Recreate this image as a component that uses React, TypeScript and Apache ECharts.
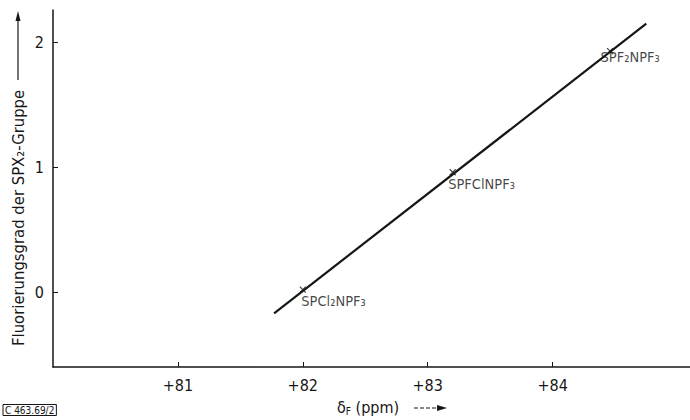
import React, { useEffect, useRef } from "react";
import * as echarts from "echarts";

const xTicks = [81, 82, 83, 84];
const yTicks = [0, 1, 2];
const compounds = ["SPCl₂NPF₃", "SPFClNPF₃", "SPF₂NPF₃"];
const shiftValues = [82.0, 83.2, 84.46];
const fluorination = [0.02, 0.96, 1.93];
const fitLine = [
  [81.77, -0.17],
  [84.75, 2.15],
];

const FONT = "'Liberation Sans Narrow', 'DejaVu Sans Condensed', 'Roboto Condensed', 'Liberation Sans', sans-serif";
const INK = "#161616";

const labelOffsets: number[][] = [
  [4, 9],
  [1, 10],
  [-4, 4],
];

export default function App() {
  const ref = useRef<HTMLDivElement>(null);
  useEffect(() => {
    if (!ref.current) return;
    const chart = echarts.init(ref.current, null, { renderer: "svg" });
    const crossPath = "path://M0,0L10,10M10,0L0,10";
    chart.setOption({
      animation: false,
      backgroundColor: "#ffffff",
      grid: { left: 53, right: 0, top: 10, bottom: 53 },
      xAxis: {
        type: "value",
        min: 80,
        max: 85.1,
        interval: 1,
        axisLine: { onZero: false, lineStyle: { color: INK, width: 1.5 } },
        axisTick: { inside: true, length: 5, customValues: xTicks, lineStyle: { color: INK } },
        axisLabel: {
          customValues: xTicks,
          formatter: (v: number) => "+" + v,
          margin: 10,
          fontSize: 16,
          fontFamily: FONT,
          color: INK,
        },
        splitLine: { show: false },
      },
      yAxis: {
        type: "value",
        min: -0.6,
        max: 2.26,
        axisLine: { show: true, onZero: false, lineStyle: { color: INK, width: 1.5 } },
        axisTick: { show: true, inside: true, length: 5, customValues: yTicks, lineStyle: { color: INK } },
        axisLabel: {
          customValues: yTicks,
          margin: 9,
          fontSize: 16,
          fontFamily: FONT,
          color: INK,
        },
        splitLine: { show: false },
      },
      series: [
        {
          type: "line",
          data: fitLine,
          symbol: "none",
          lineStyle: { color: INK, width: 2.2 },
          silent: true,
        },
        {
          type: "scatter",
          symbol: crossPath,
          symbolSize: 6,
          itemStyle: { color: "none", borderColor: INK, borderWidth: 1.2 },
          data: compounds.map((name, i) => ({
            name,
            value: [shiftValues[i], fluorination[i]],
            label: { position: labelOffsets[i] },
          })),
          label: {
            show: true,
            formatter: (p: any) => p.name,
            fontSize: 14.5,
            fontFamily: FONT,
            color: INK,
            align: "left",
            verticalAlign: "top",
          },
        },
      ],
      graphic: [
        {
          type: "text",
          x: 18,
          y: 346,
          rotation: Math.PI / 2,
          style: {
            text: "Fluorierungsgrad der SPX₂-Gruppe",
            fontSize: 16.5,
            fontFamily: FONT,
            fill: INK,
            align: "left",
            verticalAlign: "middle",
          },
        },
        {
          type: "line",
          shape: { x1: 18, y1: 80, x2: 18, y2: 18 },
          style: { stroke: INK, lineWidth: 1.2 },
        },
        {
          type: "polygon",
          shape: { points: [[18, 11], [15.5, 21], [20.5, 21]] },
          style: { fill: INK },
        },
        {
          type: "text",
          x: 337,
          y: 407,
          style: {
            rich: {
              d: { fontSize: 16, fontFamily: FONT, fill: INK, lineHeight: 18, verticalAlign: "middle" },
              s: { fontSize: 10, fontFamily: FONT, fill: INK, lineHeight: 18, verticalAlign: "bottom" },
            },
            text: "{d|δ}{s|F}{d| (ppm)}",
            verticalAlign: "middle",
          },
        },
        {
          type: "line",
          shape: { x1: 414, y1: 408, x2: 440, y2: 408 },
          style: { stroke: INK, lineWidth: 1.2, lineDash: [4, 2] },
        },
        {
          type: "polygon",
          shape: { points: [[447, 408], [437, 405], [437, 411]] },
          style: { fill: INK },
        },
        {
          type: "text",
          x: 3,
          y: 410,
          style: {
            text: "C 463.69/2",
            fontSize: 10,
            fontFamily: FONT,
            fill: INK,
            verticalAlign: "middle",
            borderColor: INK,
            borderWidth: 1,
            padding: [1, 2, 0, 2],
          },
        },
      ],
    });
    return () => chart.dispose();
  }, []);
  return (
    <div
      ref={ref}
      style={{ position: "fixed", left: 0, top: 0, width: 690, height: 420 }}
    />
  );
}
